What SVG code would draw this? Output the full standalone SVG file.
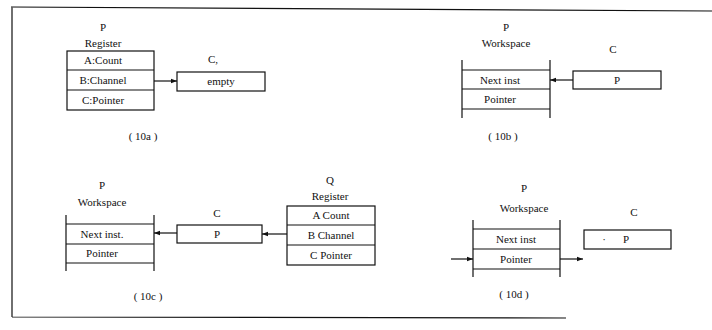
<svg xmlns="http://www.w3.org/2000/svg" width="712" height="330" viewBox="0 0 712 330">
<defs>
<marker id="ah" viewBox="0 0 6 6" refX="6" refY="3" markerWidth="6" markerHeight="6" markerUnits="userSpaceOnUse" orient="auto">
<path d="M0,0.8 L6,3 L0,5.2 Z" fill="#111"/>
</marker>
<style>
text{font-family:"Liberation Serif","Times New Roman",serif;font-size:11px;fill:#111;text-anchor:middle}
.b{fill:#fff;stroke:#111;stroke-width:1.2}
.l{stroke:#111;stroke-width:1.2;fill:none}
.c{stroke:#111;stroke-width:1.2;fill:none;marker-end:url(#ah)}
</style>
</defs>
<rect width="712" height="330" fill="#fff"/>
<g id="frame">
<path class="l" d="M11,7 L712,11 M12,7 L12,317 M12,317 L566,318"/>
</g>
<!-- 10a -->
<g id="p-register-a">
<text x="103" y="31">P</text>
<text x="103" y="47">Register</text>
<rect class="b" x="67" y="51" width="87" height="59"/>
<path class="l" d="M67,70 H154 M67,90 H154"/>
<text x="103" y="64">A:Count</text>
<text x="103" y="84">B:Channel</text>
<text x="103" y="104">C:Pointer</text>
</g>
<g id="c-a">
<text x="213" y="63">C,</text>
<rect class="b" x="177" y="72" width="88" height="19"/>
<text x="221" y="85">empty</text>
</g>
<text x="143" y="140">( 10a )</text>
<!-- 10b -->
<g id="p-workspace-b">
<text x="506" y="31">P</text>
<text x="506" y="47">Workspace</text>
<path class="l" d="M462,60 V118 M550,60 V118 M462,70 H550 M462,89 H550 M462,109 H550"/>
<text x="500" y="84">Next inst</text>
<text x="500" y="103">Pointer</text>
</g>
<g id="c-b">
<text x="613" y="53">C</text>
<rect class="b" x="573" y="71" width="88" height="18"/>
<text x="617" y="84">P</text>
</g>
<text x="503" y="140">( 10b )</text>
<!-- 10c -->
<g id="p-workspace-c">
<text x="102" y="189">P</text>
<text x="102" y="206">Workspace</text>
<path class="l" d="M66,215 V271 M154,215 V271 M66,224 H154 M66,244 H154 M66,263 H154"/>
<text x="102" y="238">Next inst.</text>
<text x="102" y="257">Pointer</text>
</g>
<g id="c-c">
<text x="217" y="217">C</text>
<rect class="b" x="177" y="225" width="85" height="18"/>
<text x="217" y="238">P</text>
</g>
<g id="q-register-c">
<text x="330" y="184">Q</text>
<text x="330" y="200">Register</text>
<rect class="b" x="287" y="206" width="88" height="59"/>
<path class="l" d="M287,225 H375 M287,245 H375"/>
<text x="331" y="219">A Count</text>
<text x="331" y="239">B Channel</text>
<text x="331" y="259">C Pointer</text>
</g>
<text x="148" y="300">( 10c )</text>
<!-- 10d -->
<g id="p-workspace-d">
<text x="524" y="192">P</text>
<text x="524" y="212">Workspace</text>
<path class="l" d="M473,220 V277 M560,220 V277 M473,229 H560 M473,249 H560 M473,269 H560"/>
<text x="516" y="243">Next inst</text>
<text x="516" y="263">Pointer</text>
</g>
<g id="c-d">
<text x="634" y="216">C</text>
<rect class="b" x="584" y="230" width="87" height="19"/>
<text x="604" y="243">·</text>
<text x="626" y="243">P</text>
</g>
<text x="514" y="298">( 10d )</text>
<g id="connectors">
<line class="c" x1="154" y1="81" x2="177" y2="81"/>
<line class="c" x1="573" y1="80" x2="550" y2="80"/>
<line class="c" x1="177" y1="233" x2="154" y2="233"/>
<line class="c" x1="287" y1="234" x2="262" y2="234"/>
<line class="c" x1="451" y1="259" x2="473" y2="259"/>
<line class="c" x1="560" y1="259" x2="583" y2="259"/>
</g>
</svg>
